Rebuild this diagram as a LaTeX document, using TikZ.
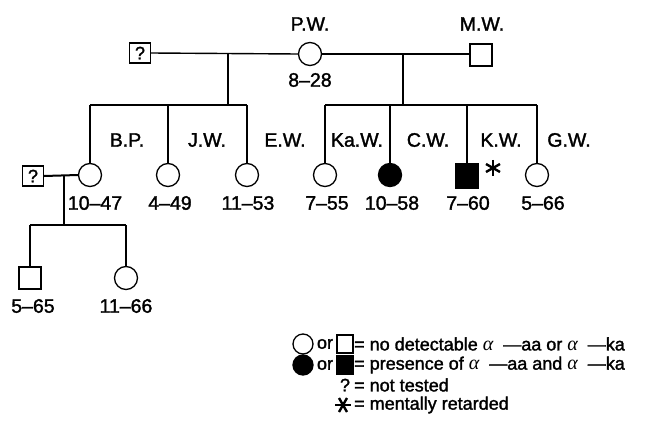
\documentclass[tikz,border=0pt]{standalone}
\usepackage{fontspec}
\setmainfont{Liberation Sans}
\newfontfamily\labfont{Liberation Sans}[Ligatures=TeX,FakeBold=1.6]
\newfontfamily\alfont{Liberation Serif}
\newcommand{\al}{\smash{\alfont\itshape\fontsize{20}{18}\selectfont α}}
\begin{document}
\begin{tikzpicture}[x=1pt,y=-1pt,
  ln/.style={line width=1.4pt},
  tk/.style={line width=2pt},
  fem/.style={circle,draw,line width=1.3pt,minimum size=23pt,inner sep=0pt},
  mal/.style={rectangle,draw,line width=1.3pt,minimum size=22pt,inner sep=0pt},
  qbox/.style={rectangle,draw,line width=1.3pt,minimum width=21pt,minimum height=20pt,inner sep=0pt,font=\labfont\fontsize{18}{18}\selectfont},
  aff/.style={fill=black},
  lab/.style={font=\labfont\fontsize{19.5}{19.5}\selectfont,inner sep=0pt},
  leg/.style={font=\labfont\fontsize{18}{18}\selectfont,inner sep=0pt,anchor=west},
  astk/.style={minimum size=16pt,inner sep=0pt,
    append after command={
      (\tikzlastnode.north) edge[line width=2.4pt] (\tikzlastnode.south)
      ([shift={(-7pt,-4pt)}]\tikzlastnode.center) edge[line width=2.4pt] ([shift={(7pt,4pt)}]\tikzlastnode.center)
      ([shift={(-7pt,4pt)}]\tikzlastnode.center) edge[line width=2.4pt] ([shift={(7pt,-4pt)}]\tikzlastnode.center)}},
  astl/.style={minimum size=16pt,inner sep=0pt,
    append after command={
      (\tikzlastnode.west) edge[line width=2.4pt] (\tikzlastnode.east)
      ([shift={(-4pt,-7pt)}]\tikzlastnode.center) edge[line width=2.4pt] ([shift={(4pt,7pt)}]\tikzlastnode.center)
      ([shift={(-4pt,7pt)}]\tikzlastnode.center) edge[line width=2.4pt] ([shift={(4pt,-7pt)}]\tikzlastnode.center)}}
]
\useasboundingbox (0,0) rectangle (650,431);

% generation I
\node[qbox] (q1) at (140,53) {?};
\node[fem] (PW) at (310,54) {};
\node[mal] (MW) at (481,55) {};
\node[lab] (nPW) at (310,24) {P.W.};
\node[lab] (aPW) at (310,80) {8--28};
\node[lab] (nMW) at (482,24) {M.W.};

\coordinate (m1) at (228,54);
\coordinate (s1) at (228,105);
\coordinate (m2) at (403,54);
\coordinate (s2) at (403,105);

\draw[ln] (q1.east) -- (PW.west);
\draw[ln] (PW.east) -- (MW.west |- PW.east);
\draw[ln] (m1) -- (s1);
\draw[ln] (m2) -- (s2);

% generation II
\node[fem] (BP) at (90,175) {};
\node[fem] (JW) at (168,175) {};
\node[fem] (EW) at (247,175) {};
\node[fem] (KaW) at (325,175) {};
\node[fem,aff] (CW) at (390,175) {};
\node[mal,aff,minimum height=24pt] (KW) at (467,176) {};
\node[fem] (GW) at (537,175) {};

\coordinate (b1) at (90,105);
\coordinate (b2) at (168,105);
\coordinate (b3) at (247,105);
\coordinate (c1) at (325,105);
\coordinate (c2) at (390,105);
\coordinate (c3) at (467,105);
\coordinate (c4) at (537,105);

\draw[ln] (b1) -- (b3);
\draw[tk] (b1) -- (BP.north);
\draw[ln] (b2) -- (JW.north);
\draw[ln] (b3) -- (EW.north);
\draw[ln] (c1) -- (c4);
\draw[ln] (c1) -- (KaW.north);
\draw[tk] (c2) -- (CW.north);
\draw[tk] (c3) -- (KW.north);
\draw[ln] (c4) -- (GW.north);

\node[lab] (nBP) at (127,140) {B.P.};
\node[lab] (nJW) at (207,140) {J.W.};
\node[lab] (nEW) at (285,140) {E.W.};
\node[lab] (nKaW) at (357,140) {Ka.W.};
\node[lab] (nCW) at (428,140) {C.W.};
\node[lab] (nKW) at (501,140) {K.W.};
\node[lab] (nGW) at (569,140) {G.W.};

\node[lab] (aBP) at (95,203) {10--47};
\node[lab] (aJW) at (170,203) {4--49};
\node[lab] (aEW) at (248,203) {11--53};
\node[lab] (aKaW) at (327,203) {7--55};
\node[lab] (aCW) at (392,203) {10--58};
\node[lab] (aKW) at (468,203) {7--60};
\node[lab] (aGW) at (543,203) {5--66};

\node[astk] (ast) at (493,168) {};

% B.P.'s family
\node[qbox] (q2) at (33,176) {?};
\coordinate (m3) at (64,176);
\coordinate (s3) at (64,225);
\draw[tk] (q2.east) -- (BP.west);
\draw[tk] (m3) -- (s3);
\node[mal] (ch1) at (30,278) {};
\node[fem] (ch2) at (126,278) {};
\coordinate (d1) at (30,225);
\coordinate (d2) at (126,225);
\draw[tk] (d1) -- (d2);
\draw[tk] (d1) -- (ch1.north);
\draw[tk] (d2) -- (ch2.north);
\node[lab] (ach1) at (33,306) {5--65};
\node[lab] (ach2) at (126,306) {11--66};

% legend
\node[fem,minimum size=20pt] (lc1) at (303,344) {};
\node[leg,anchor=center] (lo1) at (325,344) {or};
\node[mal,minimum width=16pt,minimum height=18pt] (ls1) at (345,344) {};
\node[leg] (lt1) at (354,344) {= no detectable \al\ \ —aa or \al\ \ —ka};

\node[fem,aff,minimum size=20pt] (lc2) at (303,365) {};
\node[leg,anchor=center] (lo2) at (325,365) {or};
\node[mal,aff,minimum width=16pt,minimum height=19pt] (ls2) at (345,365) {};
\node[leg] (lt2) at (354,365) {= presence of \al\ \ —aa and \al\ \ —ka};

\node[leg,anchor=center] (lq) at (345,385) {?};
\node[leg] (lt3) at (354,385) {= not tested};

\node[astl,minimum size=15pt] (la) at (343,405) {};
\node[leg] (lt4) at (354,405) {= mentally retarded};
\end{tikzpicture}
\end{document}
